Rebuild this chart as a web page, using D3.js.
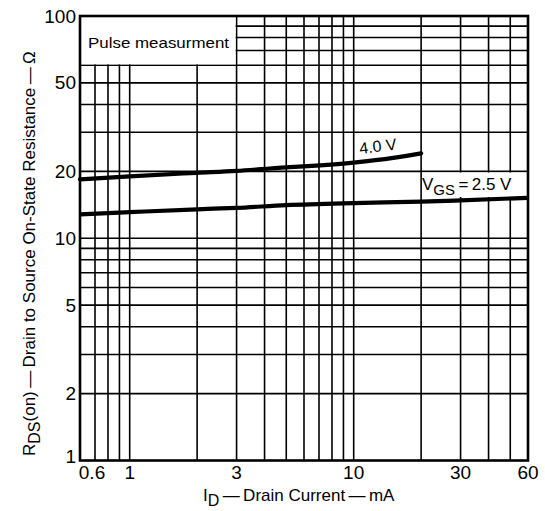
<!DOCTYPE html>
<html><head><meta charset="utf-8">
<script src="https://cdn.jsdelivr.net/npm/d3@7"></script>
<style>body{margin:0;background:#fff}svg{display:block}text{font-family:"Liberation Sans",Arial,Helvetica,sans-serif;fill:#000}</style>
</head><body><svg id="c" width="545" height="511"></svg>
<script>
// Data
const xGrid = [0.7,0.8,0.9,1,2,3,4,5,6,7,8,9,10,20,30,40,50];
const yGrid = [2,3,4,5,6,7,8,9,10,20,30,40,50,60,70,80,90];
const xTickLabels = [0.6,1,3,10,30,60];
const yTickLabels = [1,2,5,10,20,50,100];
const id40 = [0.6,1,2,3,4.2,10,15,20];
const r40  = [18.4,19.0,19.7,20.1,20.6,21.9,23.0,24.1];
const id25 = [0.6,1,2,3,5,10,20,30,60];
const r25  = [12.8,13.1,13.5,13.7,14.1,14.4,14.6,14.8,15.2];

const svg = d3.select("#c");
const L=80,R=528,T=16,B=460.5;
const x = d3.scaleLog().domain([0.6,60]).range([L,R]);
const y = d3.scaleLog().domain([1,100]).range([B,T]);

// grid
svg.append("g").selectAll("line").data(xGrid).join("line")
  .attr("x1",d=>x(d)).attr("x2",d=>x(d)).attr("y1",T).attr("y2",B)
  .attr("stroke","#000").attr("stroke-width",1.6);
svg.append("g").selectAll("line").data(yGrid).join("line")
  .attr("x1",L).attr("x2",R).attr("y1",d=>y(d)).attr("y2",d=>y(d))
  .attr("stroke","#000").attr("stroke-width",1.6);

// white boxes
svg.append("rect").attr("x",L).attr("y",T).attr("width",x(3)-L-1).attr("height",y(60)-T-1).attr("fill","#fff");
svg.append("rect").attr("x",x(20)+1.2).attr("y",y(20)+1.2).attr("width",R-x(20)-2.2).attr("height",197-y(20)-1.2).attr("fill","#fff");

// frame
svg.append("rect").attr("x",L).attr("y",T).attr("width",R-L).attr("height",B-T)
  .attr("fill","none").attr("stroke","#000").attr("stroke-width",2.6);

// curves
const line = d3.line().x(d=>x(d[0])).y(d=>y(d[1])).curve(d3.curveMonotoneX);
svg.append("path").datum(d3.zip(id40,r40)).attr("d",line)
  .attr("fill","none").attr("stroke","#000").attr("stroke-width",4.2).attr("stroke-linecap","round");
svg.append("path").datum(d3.zip(id25,r25)).attr("d",line)
  .attr("fill","none").attr("stroke","#000").attr("stroke-width",4.2);

// tick labels
svg.append("g").selectAll("text").data(yTickLabels).join("text")
  .attr("x",76).attr("y",d=>d===1?y(d)+2:y(d)+6.5).attr("text-anchor","end")
  .attr("font-size",19).text(d=>d);
svg.append("g").selectAll("text").data(xTickLabels).join("text")
  .attr("x",d=>d===0.6?x(d)+12:x(d)).attr("y",479).attr("text-anchor","middle")
  .attr("font-size",19).text(d=>d);

// annotations
svg.append("text").attr("x",88).attr("y",48).attr("font-size",15).attr("textLength",141).attr("lengthAdjust","spacingAndGlyphs").text("Pulse measurment");
svg.append("text").attr("transform","translate(360,154) rotate(-7)").attr("font-size",16).text("4.0 V");
const vg = svg.append("text").attr("x",422).attr("y",190).attr("font-size",17);
vg.append("tspan").text("V");
vg.append("tspan").attr("dy",5).attr("font-size",15).text("GS");
vg.append("tspan").attr("dy",-5).text("\u2009=\u20092.5 V");

// axis titles
const xt = svg.append("text").attr("x",203).attr("y",501).attr("font-size",17);
xt.append("tspan").text("I");
xt.append("tspan").attr("dy",5).attr("font-size",16).text("D");
xt.append("tspan").attr("dy",-5).text("\u2009\u2014\u2009Drain Current\u2009\u2014\u2009mA");

const yt = svg.append("text").attr("transform","translate(35,456) rotate(-90)").attr("font-size",17);
yt.append("tspan").text("R");
yt.append("tspan").attr("dy",5).attr("font-size",16).text("DS");
yt.append("tspan").attr("dy",-5).text("(on)\u2009\u2014\u2009Drain to Source On-State Resistance\u2009\u2014\u2009\u03A9");
</script></body></html>
